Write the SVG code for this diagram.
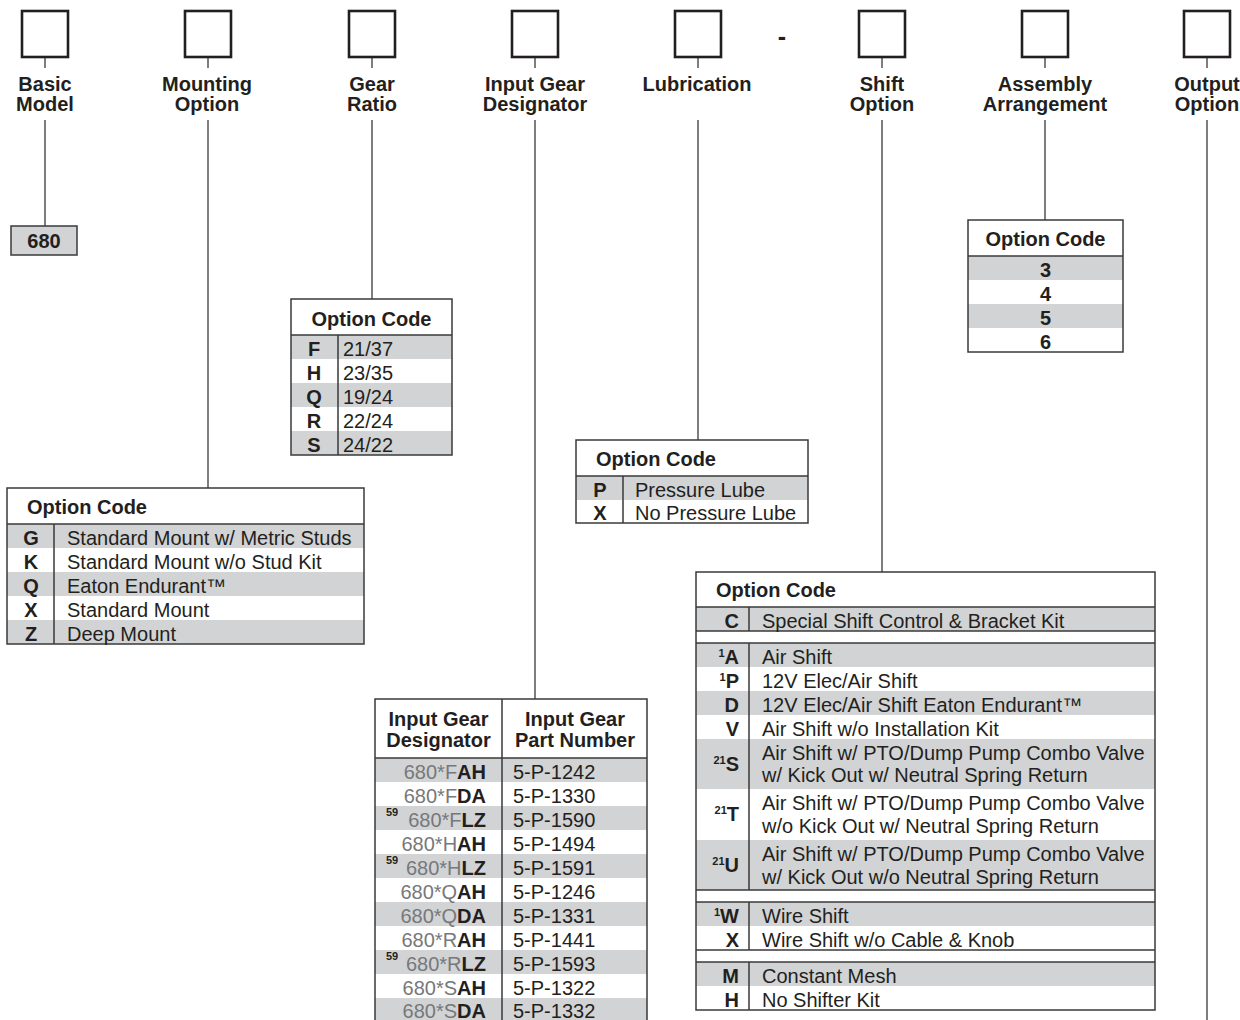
<svg xmlns="http://www.w3.org/2000/svg" width="1240" height="1020" viewBox="0 0 1240 1020">
<style>
text{font-family:"Liberation Sans",Arial,sans-serif;fill:#231f20}
.box{fill:#fff;stroke:#231f20;stroke-width:2.6}
.fr{fill:none;stroke:#3a3a3a;stroke-width:1.5}
.g{fill:#d1d3d4}
.ln{stroke:#3a3a3a;stroke-width:1.5;fill:none}
.con{stroke:#3a3a3a;stroke-width:1.3;fill:none}
.lab{font-size:20px;font-weight:bold;text-anchor:middle}
.b{font-size:20px;font-weight:bold}
.t{font-size:20px}
.c{text-anchor:middle}
.e{text-anchor:end}
.sup{font-size:11px;font-weight:bold}
.gr{fill:#77787b;font-weight:normal}
</style>

<g id="connectors">
<path class="con" d="M45 57V68M45 120V226M208 57V68M208 120V488M372 57V68M372 120V299M535 57V68M535 120V699M698 57V68M698 120V440M882 57V68M882 120V572M1045 57V68M1045 120V220M1207 57V68M1207 120V1020"/>
</g>

<g id="field-basic-model"><rect class="box" x="22" y="11" width="46" height="46"/><text class="lab" x="45" y="90.5">Basic</text><text class="lab" x="45" y="110.5">Model</text></g>
<g id="field-mounting"><rect class="box" x="185" y="11" width="46" height="46"/><text class="lab" x="207" y="90.5">Mounting</text><text class="lab" x="207" y="110.5">Option</text></g>
<g id="field-gear-ratio"><rect class="box" x="349" y="11" width="46" height="46"/><text class="lab" x="372" y="90.5">Gear</text><text class="lab" x="372" y="110.5">Ratio</text></g>
<g id="field-input-gear"><rect class="box" x="512" y="11" width="46" height="46"/><text class="lab" x="535" y="90.5">Input Gear</text><text class="lab" x="535" y="110.5">Designator</text></g>
<g id="field-lubrication"><rect class="box" x="675" y="11" width="46" height="46"/><text class="lab" x="697" y="90.5">Lubrication</text></g>
<g id="dash"><text class="lab" x="782" y="45" style="font-size:25px">-</text></g>
<g id="field-shift"><rect class="box" x="859" y="11" width="46" height="46"/><text class="lab" x="882" y="90.5">Shift</text><text class="lab" x="882" y="110.5">Option</text></g>
<g id="field-assembly"><rect class="box" x="1022" y="11" width="46" height="46"/><text class="lab" x="1045" y="90.5">Assembly</text><text class="lab" x="1045" y="110.5">Arrangement</text></g>
<g id="field-output"><rect class="box" x="1184" y="11" width="46" height="46"/><text class="lab" x="1207" y="90.5">Output</text><text class="lab" x="1207" y="110.5">Option</text></g>

<g id="basic-model-value">
<rect x="11" y="226" width="66" height="29" class="g" stroke="#3a3a3a" stroke-width="1.5"/>
<text class="b c" x="44" y="248">680</text>
</g>

<g id="gear-ratio-table">
<rect class="g" x="291" y="335" width="161" height="24"/>
<rect class="g" x="291" y="383" width="161" height="24"/>
<rect class="g" x="291" y="431" width="161" height="24"/>
<rect class="fr" x="291" y="299" width="161" height="156"/>
<path class="ln" d="M291 335H452M338 335V455"/>
<text class="b c" x="371.5" y="326">Option Code</text>
<text class="b c" x="314" y="356">F</text><text class="t" x="343" y="356">21/37</text>
<text class="b c" x="314" y="380">H</text><text class="t" x="343" y="380">23/35</text>
<text class="b c" x="314" y="404">Q</text><text class="t" x="343" y="404">19/24</text>
<text class="b c" x="314" y="428">R</text><text class="t" x="343" y="428">22/24</text>
<text class="b c" x="314" y="452">S</text><text class="t" x="343" y="452">24/22</text>
</g>

<g id="mounting-table">
<rect class="g" x="7" y="524" width="357" height="24"/>
<rect class="g" x="7" y="572" width="357" height="24"/>
<rect class="g" x="7" y="620" width="357" height="24"/>
<rect class="fr" x="7" y="488" width="357" height="156"/>
<path class="ln" d="M7 524H364M54 524V644"/>
<text class="b" x="27" y="514">Option Code</text>
<text class="b c" x="31" y="545">G</text><text class="t" x="67" y="545">Standard Mount w/ Metric Studs</text>
<text class="b c" x="31" y="569">K</text><text class="t" x="67" y="569">Standard Mount w/o Stud Kit</text>
<text class="b c" x="31" y="593">Q</text><text class="t" x="67" y="593">Eaton Endurant™</text>
<text class="b c" x="31" y="617">X</text><text class="t" x="67" y="617">Standard Mount</text>
<text class="b c" x="31" y="641">Z</text><text class="t" x="67" y="641">Deep Mount</text>
</g>

<g id="lubrication-table">
<rect class="g" x="576" y="476" width="232" height="24"/>
<rect class="fr" x="576" y="440" width="232" height="83"/>
<path class="ln" d="M576 476H808M623 476V523"/>
<text class="b" x="596" y="466">Option Code</text>
<text class="b c" x="600" y="497">P</text><text class="t" x="635" y="497">Pressure Lube</text>
<text class="b c" x="600" y="520">X</text><text class="t" x="635" y="520">No Pressure Lube</text>
</g>

<g id="assembly-table">
<rect class="g" x="968" y="256" width="155" height="24"/>
<rect class="g" x="968" y="304" width="155" height="24"/>
<rect class="fr" x="968" y="220" width="155" height="132"/>
<path class="ln" d="M968 256H1123"/>
<text class="b c" x="1045.5" y="246">Option Code</text>
<text class="b c" x="1045.5" y="277">3</text>
<text class="b c" x="1045.5" y="301">4</text>
<text class="b c" x="1045.5" y="325">5</text>
<text class="b c" x="1045.5" y="349">6</text>
</g>

<g id="input-gear-table">
<rect class="g" x="375" y="758" width="272" height="24"/>
<rect class="g" x="375" y="806" width="272" height="24"/>
<rect class="g" x="375" y="854" width="272" height="24"/>
<rect class="g" x="375" y="902" width="272" height="24"/>
<rect class="g" x="375" y="950" width="272" height="24"/>
<rect class="g" x="375" y="998" width="272" height="24"/>
<path class="ln" d="M375 1022V699H647V1022M375 758H647M502 699V1022"/>
<text class="b c" x="438.5" y="726">Input Gear</text><text class="b c" x="438.5" y="747">Designator</text>
<text class="b c" x="575" y="726">Input Gear</text><text class="b c" x="575" y="747">Part Number</text>
<text class="b e" x="486" y="779"><tspan class="gr">680*F</tspan>AH</text><text class="t" x="513" y="779">5-P-1242</text>
<text class="b e" x="486" y="803"><tspan class="gr">680*F</tspan>DA</text><text class="t" x="513" y="803">5-P-1330</text>
<text class="sup" x="386" y="816">59</text><text class="b e" x="486" y="827"><tspan class="gr">680*F</tspan>LZ</text><text class="t" x="513" y="827">5-P-1590</text>
<text class="b e" x="486" y="851"><tspan class="gr">680*H</tspan>AH</text><text class="t" x="513" y="851">5-P-1494</text>
<text class="sup" x="386" y="864">59</text><text class="b e" x="486" y="875"><tspan class="gr">680*H</tspan>LZ</text><text class="t" x="513" y="875">5-P-1591</text>
<text class="b e" x="486" y="899"><tspan class="gr">680*Q</tspan>AH</text><text class="t" x="513" y="899">5-P-1246</text>
<text class="b e" x="486" y="923"><tspan class="gr">680*Q</tspan>DA</text><text class="t" x="513" y="923">5-P-1331</text>
<text class="b e" x="486" y="947"><tspan class="gr">680*R</tspan>AH</text><text class="t" x="513" y="947">5-P-1441</text>
<text class="sup" x="386" y="960">59</text><text class="b e" x="486" y="971"><tspan class="gr">680*R</tspan>LZ</text><text class="t" x="513" y="971">5-P-1593</text>
<text class="b e" x="486" y="995"><tspan class="gr">680*S</tspan>AH</text><text class="t" x="513" y="995">5-P-1322</text>
<text class="b e" x="486" y="1017.5"><tspan class="gr">680*S</tspan>DA</text><text class="t" x="513" y="1017.5">5-P-1332</text>
</g>

<g id="shift-table">
<rect class="g" x="696" y="607" width="459" height="24"/>
<rect class="g" x="696" y="643" width="459" height="24"/>
<rect class="g" x="696" y="691" width="459" height="24"/>
<rect class="g" x="696" y="739" width="459" height="50"/>
<rect class="g" x="696" y="840" width="459" height="50"/>
<rect class="g" x="696" y="902" width="459" height="24"/>
<rect class="g" x="696" y="962" width="459" height="24"/>
<rect class="fr" x="696" y="572" width="459" height="438"/>
<path class="ln" d="M696 607H1155M696 631H1155M696 643H1155M696 890H1155M696 902H1155M696 950H1155M696 962H1155M749 607V631M749 643V890M749 902V950M749 962V1010"/>
<text class="b" x="716" y="597">Option Code</text>
<text class="b e" x="739" y="628">C</text><text class="t" x="762" y="628">Special Shift Control &amp; Bracket Kit</text>
<text class="b e" x="739" y="664"><tspan class="sup" dy="-7">1</tspan><tspan dy="7">A</tspan></text><text class="t" x="762" y="664">Air Shift</text>
<text class="b e" x="739" y="688"><tspan class="sup" dy="-7">1</tspan><tspan dy="7">P</tspan></text><text class="t" x="762" y="688">12V Elec/Air Shift</text>
<text class="b e" x="739" y="712">D</text><text class="t" x="762" y="712">12V Elec/Air Shift Eaton Endurant™</text>
<text class="b e" x="739" y="736">V</text><text class="t" x="762" y="736">Air Shift w/o Installation Kit</text>
<text class="b e" x="739" y="771"><tspan class="sup" dy="-7">21</tspan><tspan dy="7">S</tspan></text><text class="t" x="762" y="760">Air Shift w/ PTO/Dump Pump Combo Valve</text><text class="t" x="762" y="782">w/ Kick Out w/ Neutral Spring Return</text>
<text class="b e" x="739" y="821"><tspan class="sup" dy="-7">21</tspan><tspan dy="7">T</tspan></text><text class="t" x="762" y="810">Air Shift w/ PTO/Dump Pump Combo Valve</text><text class="t" x="762" y="833">w/o Kick Out w/ Neutral Spring Return</text>
<text class="b e" x="739" y="872"><tspan class="sup" dy="-7">21</tspan><tspan dy="7">U</tspan></text><text class="t" x="762" y="861">Air Shift w/ PTO/Dump Pump Combo Valve</text><text class="t" x="762" y="884">w/ Kick Out w/o Neutral Spring Return</text>
<text class="b e" x="739" y="923"><tspan class="sup" dy="-7">1</tspan><tspan dy="7">W</tspan></text><text class="t" x="762" y="923">Wire Shift</text>
<text class="b e" x="739" y="947">X</text><text class="t" x="762" y="947">Wire Shift w/o Cable &amp; Knob</text>
<text class="b e" x="739" y="983">M</text><text class="t" x="762" y="983">Constant Mesh</text>
<text class="b e" x="739" y="1007">H</text><text class="t" x="762" y="1007">No Shifter Kit</text>
</g>
</svg>
